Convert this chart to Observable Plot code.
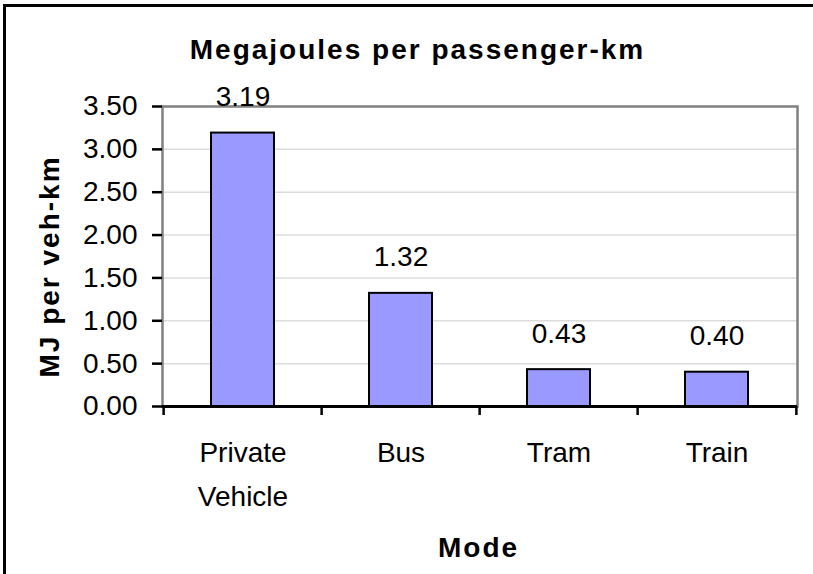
<!DOCTYPE html>
<html>
<head>
<meta charset="utf-8">
<script src="https://cdn.jsdelivr.net/npm/d3@7"></script>
<script src="https://cdn.jsdelivr.net/npm/@observablehq/plot@0.6"></script>
<style>
  html, body { margin: 0; padding: 0; background: #fff; overflow: hidden; }
  #wrap { position: relative; width: 813px; height: 574px; overflow: hidden; }
  .edge { position: absolute; background: #000; }
  #topEdge { left: 3px; top: 4px; width: 810px; height: 3px; }
  #leftEdge { left: 3px; top: 4px; width: 3px; height: 570px; }
  #chart { position: absolute; left: 0; top: 0; }
  svg text { font-family: "Liberation Sans", Arial, sans-serif; }
</style>
</head>
<body>
<div id="wrap"><div class="edge" id="topEdge"></div><div class="edge" id="leftEdge"></div><div id="chart"></div></div>
<script>
const modes = ["Private Vehicle", "Bus", "Tram", "Train"];
const values = [3.19, 1.32, 0.43, 0.40];
const yTicks = [0, 0.5, 1, 1.5, 2, 2.5, 3, 3.5];
const titleText = "Megajoules per passenger-km";
const xLabel = "Mode";
const yLabel = "MJ per veh-km";

const data = modes.map((m, i) => ({mode: m, value: values[i]}));

const W = 813, H = 574;
const mL = 162, mR = 16, mT = 106, mB = 168;
const halfBand = (W - mL - mR) / modes.length / 2;
const frameCx = mL + (W - mL - mR) / 2;
const frameCy = mT + (H - mT - mB) / 2;
const font = "Liberation Sans, Arial, sans-serif";

const plot = Plot.plot({
  width: W,
  height: H,
  marginLeft: mL,
  marginRight: mR,
  marginTop: mT,
  marginBottom: mB,
  style: {fontFamily: font, background: "transparent", color: "#000"},
  x: {domain: modes, paddingInner: 0.6, paddingOuter: 0.3, align: 0.5, axis: null},
  y: {domain: [0, 3.5], axis: null},
  marks: [
    Plot.gridY(yTicks.filter(t => t > 0 && t < 3.5), {stroke: "#dcdcdc", strokeOpacity: 1, strokeWidth: 1.5}),
    Plot.frame({stroke: "#808080", strokeWidth: 2.5}),
    Plot.barY(data, {x: "mode", y: "value", fill: "#9999ff", stroke: "#000", strokeWidth: 2}),
    Plot.text(data, {x: "mode", y: "value", text: d => d.value.toFixed(2), lineAnchor: "bottom", dy: -27, fontSize: 28, fill: "#000"}),
    Plot.axisY({ticks: yTicks, tickFormat: d => d.toFixed(2), tickSize: 10, tickPadding: 15, fontSize: 28, strokeWidth: 2.5, line: true, label: null}),
    Plot.axisX({ticks: modes, tickSize: 9, tickFormat: () => "", dx: -halfBand, strokeWidth: 2.5, label: null}),
    Plot.axisX({ticks: [modes[modes.length - 1]], tickSize: 9, tickFormat: () => "", dx: halfBand, strokeWidth: 2.5, label: null}),
    Plot.ruleY([0], {stroke: "#000", strokeWidth: 3}),
    Plot.axisX({ticks: modes, tickSize: 0, tickPadding: 24, fontSize: 28, lineHeight: 1.57, tickFormat: d => d.replace(" ", "\n"), label: null}),
    Plot.text([titleText], {frameAnchor: "top", textAnchor: "middle", dx: 417 - frameCx, dy: 58 - mT, lineAnchor: "bottom", fontSize: 28, fontWeight: "bold", fill: "#000"}),
    Plot.text([xLabel], {frameAnchor: "bottom", textAnchor: "middle", dx: 478 - frameCx, dy: 556 - (H - mB), lineAnchor: "bottom", fontSize: 28, fontWeight: "bold", fill: "#000"}),
    Plot.text([yLabel], {frameAnchor: "left", textAnchor: "middle", rotate: -90, dx: 58 - mL, dy: 266 - frameCy, lineAnchor: "bottom", fontSize: 28, fontWeight: "bold", fill: "#000"})
  ]
});

d3.select(plot).selectAll("text").each(function() {
  const t = this.textContent;
  if (t === titleText || t === xLabel || t === yLabel) d3.select(this).attr("letter-spacing", "2px");
});

document.getElementById("chart").appendChild(plot);
</script>
</body>
</html>
